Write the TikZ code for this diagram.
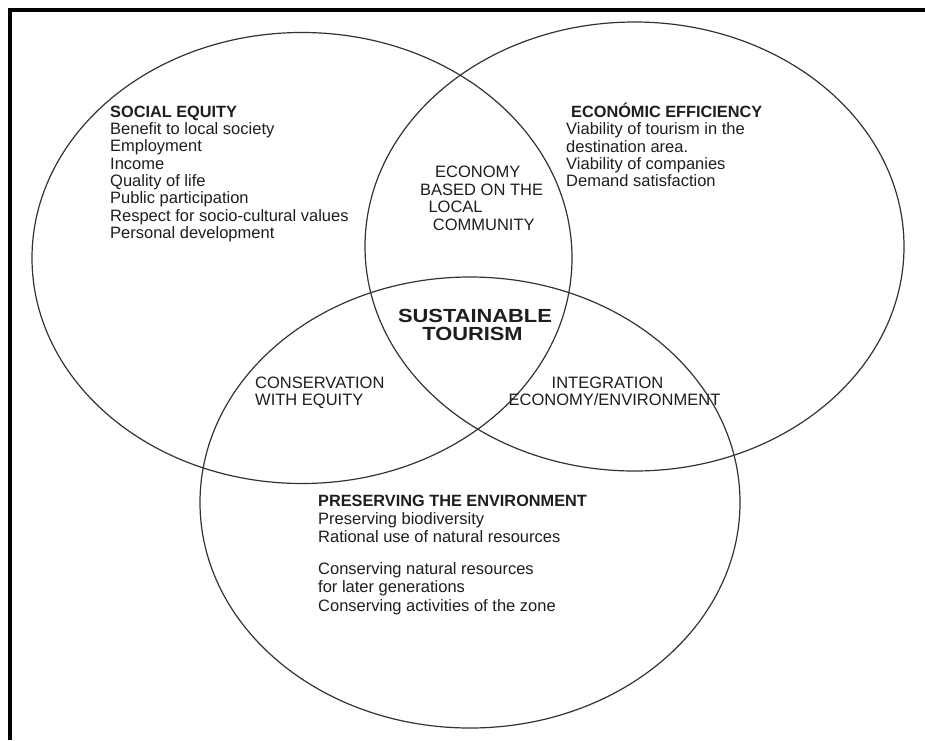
\documentclass[tikz,border=0pt]{standalone}
\usepackage{fontspec}
\setmainfont{Liberation Sans}
\usetikzlibrary{shapes.geometric}
\definecolor{ink}{HTML}{1E1E1E}
\definecolor{ring}{HTML}{333333}
\tikzset{
  ringshape/.style={draw=ring, line width=1.2pt, ellipse, inner sep=0pt},
  txt/.style={anchor=base west, inner sep=0pt, text=ink, font=\fontsize{16.5}{17}\selectfont},
  hd/.style={txt, font=\fontsize{16.3}{17}\selectfont\bfseries},
  ctr/.style={anchor=base, inner sep=0pt, text=ink, font=\fontsize{16.5}{17}\selectfont},
  big/.style={anchor=base, inner sep=0pt, text=ink, xscale=1.15, font=\fontsize{19}{20}\selectfont\bfseries}
}
\begin{document}
\begin{tikzpicture}[x=1pt,y=-1pt]
\useasboundingbox (0,0) rectangle (925,740);
\fill[white] (0,0) rectangle (925,740);
\draw[line width=4pt, black] (10,740) -- (10,10) -- (925,10);
% circles
\node[ringshape, minimum width=540pt, minimum height=451pt] (social) at (302,258) {};
\node[ringshape, minimum width=539pt, minimum height=449pt] (econ) at (634.5,246.5) {};
\node[ringshape, minimum width=540pt, minimum height=451pt] (env) at (470,502.5) {};
% social equity
\node[hd]  (s0) at (110,117) {SOCIAL EQUITY};
\node[txt] (s1) at (110,134.3) {Benefit to local society};
\node[txt] (s2) at (110,151.6) {Employment};
\node[txt] (s3) at (110,169) {Income};
\node[txt] (s4) at (110,186.3) {Quality of life};
\node[txt] (s5) at (110,203.6) {Public participation};
\node[txt] (s6) at (110,221) {Respect for socio-cultural values};
\node[txt] (s7) at (110,238.2) {Personal development};
% economic efficiency
\node[hd]  (e0) at (571,117) {ECONÓMIC EFFICIENCY};
\node[txt] (e1) at (566,134.5) {Viability of tourism in the};
\node[txt] (e2) at (566,152) {destination area.};
\node[txt] (e3) at (566,169) {Viability of companies};
\node[txt] (e4) at (566,186) {Demand satisfaction};
% economy based on local community
\node[txt] (c1) at (435,177.7) {ECONOMY};
\node[txt] (c2) at (420,195) {BASED ON THE};
\node[txt] (c3) at (428.3,212.7) {LOCAL};
\node[txt] (c4) at (432.7,230) {COMMUNITY};
% sustainable tourism
\node[big] (t1) at (475,322) {SUSTAINABLE};
\node[big] (t2) at (472.5,340) {TOURISM};
% conservation with equity
\node[txt] (q1) at (255,388) {CONSERVATION};
\node[txt] (q2) at (255,405) {WITH EQUITY};
% integration
\node[ctr] (i1) at (607.5,388) {INTEGRATION};
\node[ctr] (i2) at (614.5,405) {ECONOMY/ENVIRONMENT};
% preserving the environment
\node[hd]  (p0) at (318,506.5) {PRESERVING THE ENVIRONMENT};
\node[txt] (p1) at (318,524.5) {Preserving biodiversity};
\node[txt] (p2) at (318,542.5) {Rational use of natural resources};
\node[txt] (p3) at (318,574.5) {Conserving natural resources};
\node[txt] (p4) at (318,592.5) {for later generations};
\node[txt] (p5) at (318,611) {Conserving activities of the zone};
\end{tikzpicture}
\end{document}
